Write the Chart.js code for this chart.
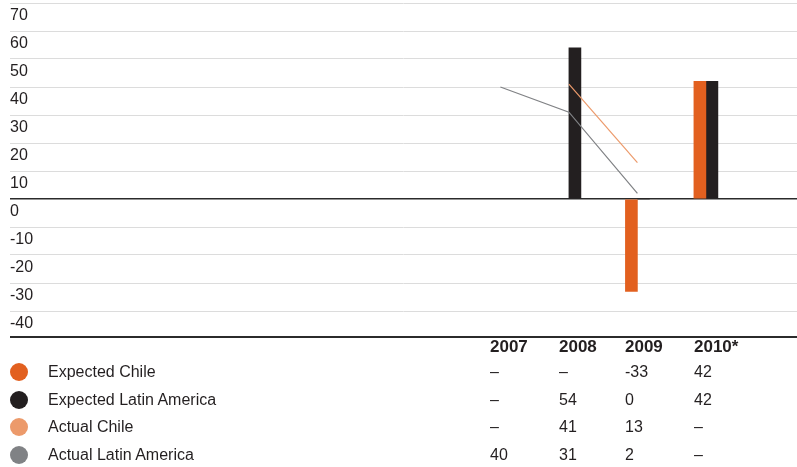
<!DOCTYPE html>
<html>
<head>
<meta charset="utf-8">
<script src="https://cdn.jsdelivr.net/npm/chart.js@4/dist/chart.umd.min.js"></script>
<style>
  html, body { margin: 0; padding: 0; background: #ffffff; }
  #wrap { position: relative; width: 797px; height: 467px; overflow: hidden;
          font-family: "Liberation Sans", Arial, sans-serif; color: #231f20; }
  #plot { position: absolute; left: 0; top: 0; width: 797px; height: 336px; }
  #table { position: absolute; left: 0; top: 0; width: 797px; height: 467px; }
  .rule { position: absolute; left: 10px; width: 787px; height: 2px; background: #2b2b2b; }
  .cell { position: absolute; height: 20px; line-height: 20px; font-size: 16px; white-space: nowrap; }
  .head { font-weight: bold; font-size: 17px; }
  .dot { position: absolute; width: 18px; height: 18px; border-radius: 50%; }
</style>
</head>
<body>
<div id="wrap">
  <div id="plot"><canvas id="chart"></canvas></div>
  <div id="table"></div>
</div>
<script>
// Growth figures per year (percent)
const years = ['2007', '2008', '2009', '2010*'];
const expectedChile = [null, null, -33, 42];
const expectedLatAm = [null, 54, 0, 42];
const actualChile = [null, 41, 13, null];
const actualLatAm = [40, 31, 2, null];

const seriesNames = ['Expected Chile', 'Expected Latin America', 'Actual Chile', 'Actual Latin America'];
const seriesColors = ['#e2601f', '#231f20', '#ec9a6b', '#808285'];
const seriesValues = [expectedChile, expectedLatAm, actualChile, actualLatAm];

const yMin = -40, yMax = 70, yStep = 10;

const toPoints = arr => arr.map((v, i) => ({ x: i, y: v }));

const chart = new Chart(document.getElementById('chart'), {
  type: 'bar',
  data: {
    datasets: [
      { type: 'bar', label: seriesNames[0], data: toPoints(expectedChile),
        backgroundColor: seriesColors[0], barThickness: 12, order: 1 },
      { type: 'bar', label: seriesNames[1], data: toPoints(expectedLatAm),
        backgroundColor: seriesColors[1], barThickness: 12, order: 1 },
      { type: 'line', label: seriesNames[2], data: toPoints(actualChile),
        borderColor: seriesColors[2], borderWidth: 1.2, pointRadius: 0, tension: 0, order: 0 },
      { type: 'line', label: seriesNames[3], data: toPoints(actualLatAm),
        borderColor: seriesColors[3], borderWidth: 1.2, pointRadius: 0, tension: 0, order: 0 }
    ]
  },
  options: {
    responsive: true,
    maintainAspectRatio: false,
    animation: false,
    layout: { padding: { left: 10, right: 0, top: 3, bottom: 25 } },
    plugins: { legend: { display: false }, tooltip: { enabled: false } },
    scales: {
      x: {
        type: 'linear', display: false,
        min: -7.16, max: 4.33, offset: false
      },
      y: {
        min: yMin, max: yMax,
        border: { display: false },
        grid: {
          drawTicks: false,
          color: ctx => ctx.tick && ctx.tick.value === 0 ? '#2b2b2b' : '#dcdcdc',
          lineWidth: ctx => ctx.tick && ctx.tick.value === 0 ? 1.6 : 1
        },
        ticks: {
          stepSize: yStep, mirror: true, padding: 0, labelOffset: 13, autoSkip: false,
          color: '#231f20',
          font: { family: '"Liberation Sans", Arial, sans-serif', size: 16 }
        },
        afterFit: scale => { scale.paddingTop = 0; scale.paddingBottom = 0; }
      }
    }
  }
});

// Data table with legend markers under the plot
const table = document.getElementById('table');
const xScale = chart.scales.x;
const colLeft = years.map((_, i) => Math.round(xScale.getPixelForValue(i)) - 10 - (i > 1 ? 2 : 0));

function addCell(text, left, centerY, cls) {
  const d = document.createElement('div');
  d.className = 'cell' + (cls ? ' ' + cls : '');
  d.textContent = text;
  d.style.left = left + 'px';
  d.style.top = (centerY - 10) + 'px';
  table.appendChild(d);
}

const rule = document.createElement('div');
rule.className = 'rule';
rule.style.top = '336px';
table.appendChild(rule);

years.forEach((y, i) => addCell(y, colLeft[i], 347, 'head'));

const rowCenters = [372, 399.5, 427, 455];
seriesNames.forEach((name, r) => {
  const cy = rowCenters[r];
  const dot = document.createElement('div');
  dot.className = 'dot';
  dot.style.background = seriesColors[r];
  dot.style.left = '10px';
  dot.style.top = (cy - 9) + 'px';
  table.appendChild(dot);
  addCell(name, 48, cy);
  seriesValues[r].forEach((v, i) => addCell(v === null ? '\u2013' : String(v), colLeft[i], cy));
});
</script>
</body>
</html>
